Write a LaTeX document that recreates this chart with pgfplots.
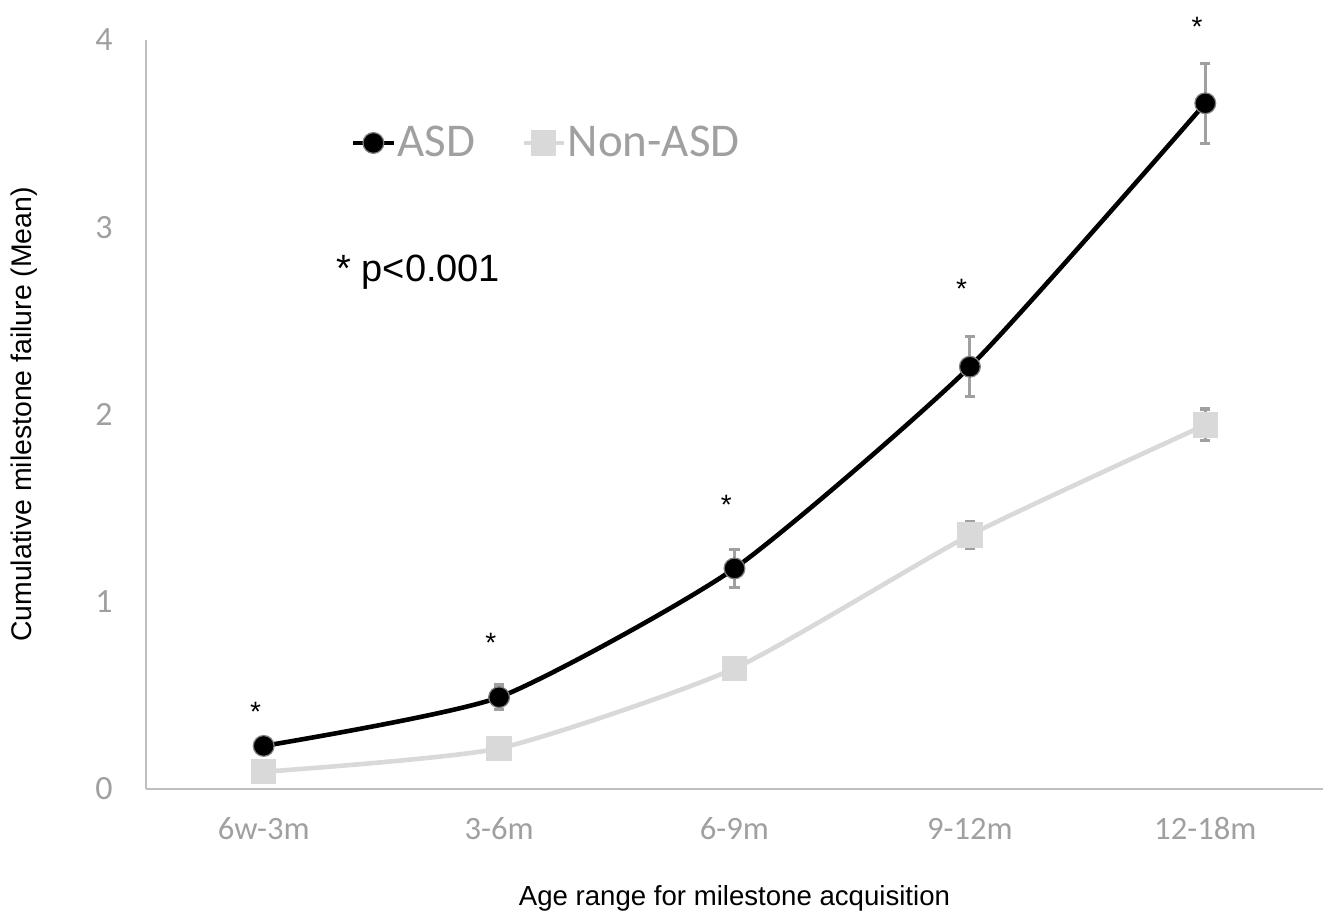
\documentclass[border=0pt]{standalone}
\usepackage{fontspec}
\setmainfont{Liberation Sans}
\newfontfamily\carlito{Carlito}
\usepackage{pgfplots}
\pgfplotsset{compat=1.18}
\definecolor{tickgray}{RGB}{160,160,160}
\definecolor{axisgray}{RGB}{191,191,191}
\definecolor{errgray}{RGB}{160,160,160}
\definecolor{nonasd}{RGB}{217,217,217}
\begin{document}
\begin{tikzpicture}
\useasboundingbox (-73pt,-62.5pt) rectangle (588.5pt,394.5pt);
\begin{axis}[
  scale only axis, width=588.5pt, height=374.5pt,
  at={(0,0)}, anchor=south west,
  xmin=-0.5, xmax=4.5, ymin=0, ymax=4,
  axis lines*=left,
  axis line style={axisgray, line width=0.75pt},
  xtick={0,1,2,3,4},
  xticklabels={6w-3m,3-6m,6-9m,9-12m,12-18m},
  ytick={0,1,2,3,4},
  major tick length=0pt,
  tick style={draw=none},
  /pgf/number format/assume math mode=true,
  xticklabel style={font=\carlito\fontsize{16.3}{19}\selectfont, text=tickgray, anchor=base, inner sep=0pt, yshift=-25.5pt},
  yticklabel style={font=\carlito\fontsize{17}{20}\selectfont, text=tickgray, anchor=east, inner sep=0pt, xshift=-16.5pt},
  xlabel={Age range for milestone acquisition},
  ylabel={Cumulative milestone failure (Mean)},
  xlabel style={font=\fontsize{13.8}{16}\selectfont, at={(axis description cs:0.5,-0.1562)}, anchor=base, inner sep=0pt},
  ylabel style={font=\fontsize{14.2}{16}\selectfont, at={(axis description cs:-0.0969,0.5)}, anchor=base, inner sep=0pt},
  clip=false,
  legend style={at={(rel axis cs:0.174,0.8625)}, anchor=west, draw=none, fill=none,
    font=\carlito\fontsize{23.5}{26}\selectfont, text=tickgray, inner sep=0pt,
    nodes={inner sep=1pt},
    /tikz/every even column/.append style={column sep=22pt}},
  legend columns=2,
  legend image code/.code={\draw[mark repeat=2,mark phase=2] plot coordinates {(0cm,0cm) (0.35cm,0cm) (0.7cm,0cm)};},
]
% error bar caps (ends of the visible error bars)
\addplot[forget plot, only marks, mark=-, mark size=2.6pt, errgray, line width=1.6pt,
  mark options={draw=errgray, line width=1.6pt}]
  coordinates {
    (1,0.555) (1,0.425)
    (2,1.278) (2,1.078)
    (3,2.415) (3,2.095)
    (4,3.876) (4,3.448)
    (3,1.426) (3,1.286)
    (4,2.029) (4,1.859)
  };
\addplot[black, line width=2.3pt, smooth, tension=0.35, mark=*, mark size=5.2pt,
  mark options={fill=black, draw=gray, line width=0.6pt},
  error bars/.cd, y dir=both, y explicit,
  error bar style={errgray, line width=1.6pt},
  error mark=none]
  coordinates {
    (0,0.23) +- (0,0.04)
    (1,0.49) +- (0,0.065)
    (2,1.178) +- (0,0.10)
    (3,2.255) +- (0,0.16)
    (4,3.662) +- (0,0.214)
  };
\addlegendentry{ASD}
\addplot[nonasd, line width=2.3pt, smooth, tension=0.35, mark=square*, mark size=5.2pt,
  mark options={fill=nonasd, draw=nonasd},
  error bars/.cd, y dir=both, y explicit,
  error bar style={errgray, line width=1.6pt},
  error mark=none]
  coordinates {
    (0,0.092) +- (0,0.03)
    (1,0.217) +- (0,0.04)
    (2,0.644) +- (0,0.05)
    (3,1.356) +- (0,0.07)
    (4,1.944) +- (0,0.085)
  };
\addlegendentry{Non-ASD}
\node[font=\fontsize{14}{16}\selectfont, inner sep=0pt] at (axis cs:-0.035,0.41) {*};
\node[font=\fontsize{14}{16}\selectfont, inner sep=0pt] at (axis cs:0.965,0.78) {*};
\node[font=\fontsize{14}{16}\selectfont, inner sep=0pt] at (axis cs:1.965,1.52) {*};
\node[font=\fontsize{14}{16}\selectfont, inner sep=0pt] at (axis cs:2.965,2.67) {*};
\node[font=\fontsize{14}{16}\selectfont, inner sep=0pt] at (axis cs:3.965,4.07) {*};
\node[anchor=base west, font=\fontsize{19}{22}\selectfont, inner sep=0pt] at (rel axis cs:0.1614,0.6774) {* p<0.001};
\end{axis}
\end{tikzpicture}
\end{document}
